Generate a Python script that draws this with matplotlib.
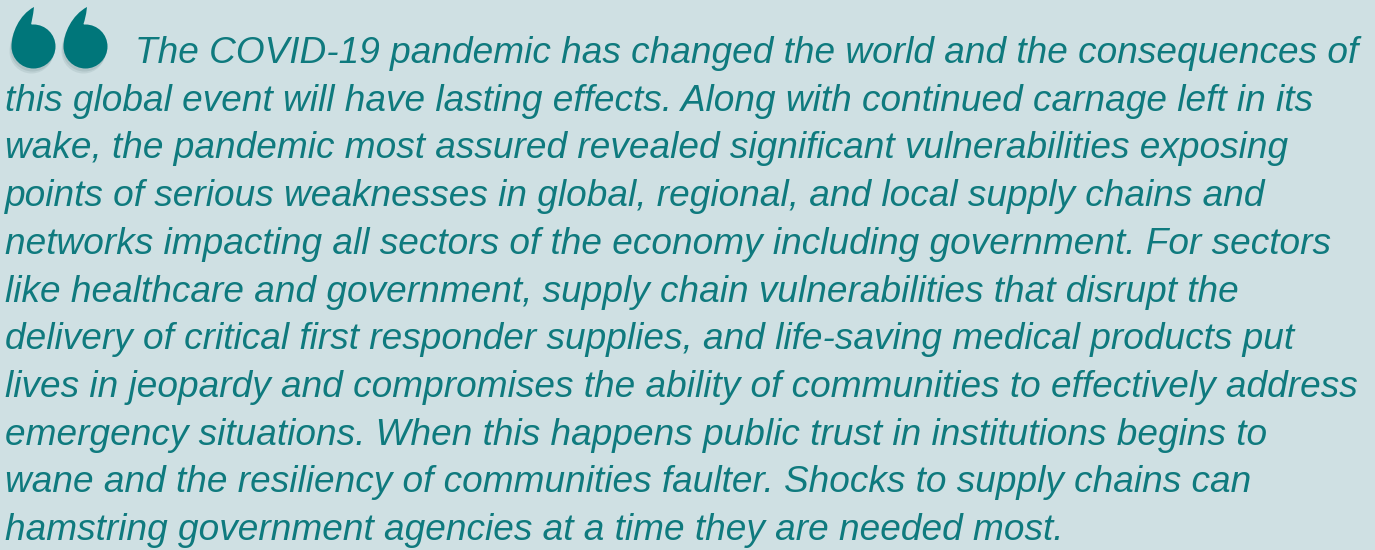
import matplotlib
matplotlib.use('Agg')
import matplotlib.pyplot as plt
from matplotlib import font_manager
from matplotlib.path import Path
from matplotlib.patches import PathPatch

# Texto de la cita, una entrada por renglón
lines = [
    "The COVID-19 pandemic has changed the world and the consequences of",
    "this global event will have lasting effects. Along with continued carnage left in its",
    "wake, the pandemic most assured revealed significant vulnerabilities exposing",
    "points of serious weaknesses in global, regional, and local supply chains and",
    "networks impacting all sectors of the economy including government. For sectors",
    "like healthcare and government, supply chain vulnerabilities that disrupt the",
    "delivery of critical first responder supplies, and life-saving medical products put",
    "lives in jeopardy and compromises the ability of communities to effectively address",
    "emergency situations. When this happens public trust in institutions begins to",
    "wane and the resiliency of communities faulter. Shocks to supply chains can",
    "hamstring government agencies at a time they are needed most.",
]

bg = '#cfe0e3'
teal = '#0f7a7e'
quote_col = '#00767a'

names = {f.name for f in font_manager.fontManager.ttflist}
font = 'Liberation Sans Narrow' if 'Liberation Sans Narrow' in names else 'Liberation Sans'

fig = plt.figure(figsize=(13.75, 5.5), dpi=100)
fig.patch.set_facecolor(bg)
ax = fig.add_axes([0, 0, 1, 1])
ax.set_xlim(0, 1375)
ax.set_ylim(550, 0)
ax.axis('off')

# Comillas de apertura: círculo con cola hacia arriba
def quote_blob(cx, cy, r, tipx, tipy):
    k = 0.5523
    verts = [
        (cx - r, cy),
        (cx - r, cy + k * r), (cx - k * r, cy + r), (cx, cy + r),
        (cx + k * r, cy + r), (cx + r, cy + k * r), (cx + r, cy),
        (cx + r, cy - k * r), (cx + k * r, cy - r), (cx, cy - r),
        (cx - 0.2 * r, cy - r), (tipx - 1, cy - 0.95 * r), (tipx + 1, tipy),
        (tipx - 14, tipy + 8), (cx - r, cy - 0.6 * r), (cx - r, cy),
        (cx - r, cy),
    ]
    codes = [Path.MOVETO] + [Path.CURVE4] * 15 + [Path.CLOSEPOLY]
    return Path(verts, codes)

for cx, tipx in [(33.5, 33), (85.5, 86)]:
    for dx, dy, a in [(-2, 5, 0.10), (-1, 3, 0.12)]:
        p = quote_blob(cx + dx, 46.5 + dy, 22, tipx + dx, 7 + dy)
        ax.add_patch(PathPatch(p, facecolor='#3a5a5c', edgecolor='none', alpha=a))
    ax.add_patch(PathPatch(quote_blob(cx, 46.5, 22, tipx, 7),
                           facecolor=quote_col, edgecolor='none'))

# Ajuste del tamaño de letra al ancho del renglón más largo
fs = 28
probe = ax.text(5, 0, lines[7], fontsize=fs, family=font, style='italic')
fig.canvas.draw()
w = probe.get_window_extent().width
probe.remove()
fs = fs * 1352 / w

y0, dy = 63, 47.7
for i, s in enumerate(lines):
    x = 135 if i == 0 else 5
    ax.text(x, y0 + i * dy, s, fontsize=fs, family=font, style='italic',
            color=teal, va='baseline', ha='left')

fig.savefig('out.png', dpi=100, facecolor=bg)
